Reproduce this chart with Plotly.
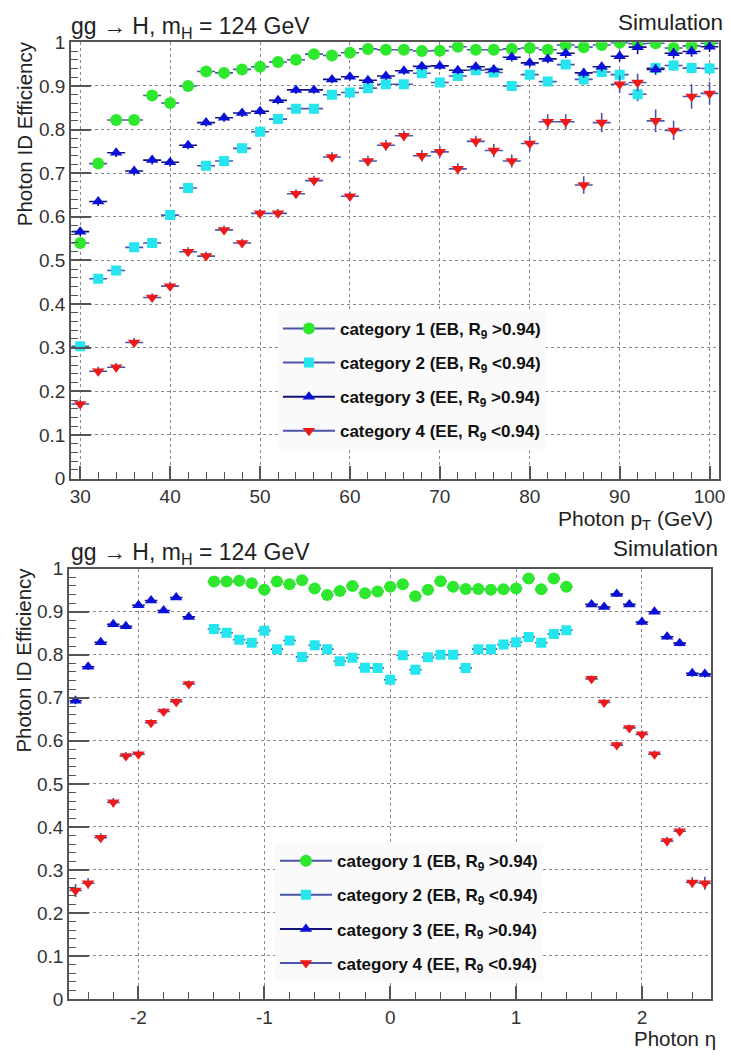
import plotly.graph_objects as go

# ---------------- efficiency vs photon pT ----------------
pt = [30, 32, 34, 36, 38, 40, 42, 44, 46, 48, 50, 52, 54, 56, 58, 60, 62, 64,
      66, 68, 70, 72, 74, 76, 78, 80, 82, 84, 86, 88, 90, 92, 94, 96, 98, 100]

pt_cat1 = [0.540, 0.722, 0.822, 0.822, 0.878, 0.861, 0.900, 0.933, 0.930, 0.938,
           0.944, 0.955, 0.960, 0.973, 0.970, 0.976, 0.985, 0.983, 0.983, 0.980,
           0.981, 0.990, 0.983, 0.983, 0.985, 0.987, 0.983, 0.994, 0.989, 0.994,
           0.999, 0.997, 0.998, 0.987, 0.992, 0.998]
pt_cat2 = [0.303, 0.458, 0.477, 0.530, 0.540, 0.604, 0.666, 0.717, 0.728, 0.757,
           0.795, 0.824, 0.848, 0.848, 0.880, 0.885, 0.895, 0.904, 0.904, 0.929,
           0.908, 0.923, 0.936, 0.931, 0.900, 0.926, 0.910, 0.949, 0.915, 0.932,
           0.926, 0.881, 0.941, 0.947, 0.941, 0.940]
pt_cat3 = [0.566, 0.635, 0.747, 0.705, 0.730, 0.725, 0.764, 0.816, 0.827, 0.838,
           0.842, 0.867, 0.891, 0.891, 0.915, 0.921, 0.913, 0.923, 0.935, 0.945,
           0.946, 0.936, 0.944, 0.938, 0.966, 0.953, 0.962, 0.975, 0.930, 0.944,
           0.968, 0.989, 0.938, 0.975, 0.979, 0.990]
pt_cat4 = [0.171, 0.246, 0.255, 0.312, 0.415, 0.441, 0.520, 0.510, 0.570, 0.540,
           0.608, 0.608, 0.653, 0.683, 0.737, 0.647, 0.728, 0.764, 0.786, 0.740,
           0.749, 0.710, 0.773, 0.752, 0.728, 0.768, 0.818, 0.818, 0.673, 0.816,
           0.904, 0.908, 0.820, 0.798, 0.876, 0.883]

pt_err1 = [0.006, 0.006, 0.005, 0.005, 0.004, 0.004, 0.004, 0.004, 0.004, 0.004,
           0.004, 0.004, 0.004, 0.004, 0.004, 0.004, 0.004, 0.004, 0.004, 0.004,
           0.004, 0.004, 0.004, 0.004, 0.004, 0.004, 0.004, 0.004, 0.004, 0.004,
           0.004, 0.004, 0.004, 0.005, 0.005, 0.005]
pt_err2 = [0.008, 0.008, 0.008, 0.008, 0.008, 0.008, 0.008, 0.008, 0.008, 0.008,
           0.008, 0.008, 0.008, 0.008, 0.008, 0.008, 0.008, 0.008, 0.008, 0.008,
           0.008, 0.008, 0.008, 0.008, 0.009, 0.009, 0.010, 0.010, 0.011, 0.011,
           0.012, 0.016, 0.012, 0.012, 0.012, 0.012]
pt_err3 = [0.010, 0.010, 0.010, 0.010, 0.010, 0.010, 0.009, 0.009, 0.009, 0.009,
           0.009, 0.009, 0.009, 0.009, 0.009, 0.009, 0.009, 0.009, 0.009, 0.009,
           0.009, 0.009, 0.009, 0.009, 0.010, 0.010, 0.010, 0.011, 0.011, 0.011,
           0.012, 0.016, 0.012, 0.012, 0.012, 0.012]
pt_err4 = [0.010, 0.010, 0.010, 0.010, 0.010, 0.010, 0.010, 0.010, 0.010, 0.010,
           0.010, 0.010, 0.010, 0.011, 0.011, 0.011, 0.012, 0.012, 0.012, 0.013,
           0.013, 0.013, 0.013, 0.015, 0.015, 0.018, 0.017, 0.017, 0.020, 0.022,
           0.020, 0.020, 0.026, 0.022, 0.028, 0.026]

PT_HALF_BIN = 1.0

# ---------------- efficiency vs photon eta ----------------
eta_eb = [-1.4, -1.3, -1.2, -1.1, -1.0, -0.9, -0.8, -0.7, -0.6, -0.5, -0.4, -0.3,
          -0.2, -0.1, 0.0, 0.1, 0.2, 0.3, 0.4, 0.5, 0.6, 0.7, 0.8, 0.9, 1.0, 1.1,
          1.2, 1.3, 1.4]
eta_ee = [-2.5, -2.4, -2.3, -2.2, -2.1, -2.0, -1.9, -1.8, -1.7, -1.6,
          1.6, 1.7, 1.8, 1.9, 2.0, 2.1, 2.2, 2.3, 2.4, 2.5]

eta_cat1 = [0.970, 0.970, 0.972, 0.966, 0.951, 0.970, 0.964, 0.973, 0.954, 0.939,
            0.948, 0.960, 0.943, 0.947, 0.958, 0.964, 0.936, 0.951, 0.971, 0.958,
            0.953, 0.953, 0.951, 0.952, 0.954, 0.977, 0.952, 0.977, 0.958]
eta_cat2 = [0.860, 0.851, 0.835, 0.828, 0.856, 0.813, 0.833, 0.795, 0.822, 0.813,
            0.785, 0.793, 0.770, 0.769, 0.742, 0.799, 0.765, 0.794, 0.800, 0.800,
            0.769, 0.813, 0.813, 0.824, 0.829, 0.841, 0.828, 0.848, 0.857]
eta_cat3 = [0.693, 0.772, 0.829, 0.871, 0.866, 0.915, 0.926, 0.903, 0.933, 0.888,
            0.917, 0.911, 0.941, 0.917, 0.876, 0.900, 0.842, 0.827, 0.757, 0.755]
eta_cat4 = [0.252, 0.269, 0.375, 0.457, 0.565, 0.569, 0.642, 0.668, 0.691, 0.732,
            0.744, 0.689, 0.590, 0.630, 0.615, 0.569, 0.367, 0.390, 0.271, 0.269]

eta_err_eb = [0.005, 0.005, 0.005, 0.005, 0.005, 0.005, 0.005, 0.005, 0.005,
              0.005, 0.005, 0.005, 0.005, 0.005, 0.005, 0.005, 0.005, 0.005,
              0.005, 0.005, 0.005, 0.005, 0.005, 0.005, 0.005, 0.005, 0.005,
              0.005, 0.005]
eta_err3 = [0.008, 0.007, 0.007, 0.007, 0.007, 0.006, 0.006, 0.006, 0.006, 0.006,
            0.006, 0.006, 0.006, 0.006, 0.006, 0.006, 0.007, 0.007, 0.008, 0.008]
eta_err4 = [0.015, 0.012, 0.010, 0.010, 0.009, 0.009, 0.008, 0.008, 0.008, 0.008,
            0.008, 0.008, 0.008, 0.008, 0.009, 0.009, 0.010, 0.010, 0.012, 0.015]

ETA_HALF_BIN = 0.05

eta_tickvals = [-2, -1, 0, 1, 2]
eta_ticktext = ["-2", "-1", "0", "1", "2"]

# ---------------- styling ----------------
FONT = "Liberation Sans, Arial, Helvetica, sans-serif"
TXT = "#222222"
AXC = "#555555"
BAR_LIGHT = "#4a55a8"
BAR_DARK = "#12127a"

series = [
    dict(name="category 1 (EB, R<sub>9</sub> &gt;0.94)", color="#2ee82e",
         symbol="circle", size=12, bar=BAR_LIGHT),
    dict(name="category 2 (EB, R<sub>9</sub> &lt;0.94)", color="#25e6ee",
         symbol="square", size=10, bar=BAR_LIGHT),
    dict(name="category 3 (EE, R<sub>9</sub> &gt;0.94)", color="#0a10d8",
         symbol="triangle-up", size=11, bar=BAR_DARK),
    dict(name="category 4 (EE, R<sub>9</sub> &lt;0.94)", color="#ee1a1a",
         symbol="triangle-down", size=11, bar=BAR_LIGHT),
]

W, H = 731, 1059


def px_x(p):
    return p / W


def px_y(p):
    return 1 - p / H


fig = go.Figure()

top_sets = [(pt, pt_cat1, pt_err1), (pt, pt_cat2, pt_err2),
            (pt, pt_cat3, pt_err3), (pt, pt_cat4, pt_err4)]
bot_sets = [(eta_eb, eta_cat1, eta_err_eb), (eta_eb, eta_cat2, eta_err_eb),
            (eta_ee, eta_cat3, eta_err3), (eta_ee, eta_cat4, eta_err4)]

for (xs, ys, es), s in zip(top_sets, series):
    fig.add_trace(go.Scatter(
        x=xs, y=ys, mode="markers", xaxis="x", yaxis="y", showlegend=False,
        marker=dict(color=s["color"], symbol=s["symbol"], size=s["size"],
                    line=dict(width=0)),
        error_x=dict(type="constant", value=PT_HALF_BIN, color=s["bar"],
                     thickness=1.6, width=0),
        error_y=dict(type="data", array=es, color=s["bar"], thickness=1.6, width=0),
    ))

for (xs, ys, es), s in zip(bot_sets, series):
    fig.add_trace(go.Scatter(
        x=xs, y=ys, mode="markers", xaxis="x2", yaxis="y2", showlegend=False,
        marker=dict(color=s["color"], symbol=s["symbol"], size=s["size"],
                    line=dict(width=0)),
        error_x=dict(type="constant", value=ETA_HALF_BIN, color=s["bar"],
                     thickness=1.6, width=0),
        error_y=dict(type="data", array=es, color=s["bar"], thickness=1.6, width=0),
    ))

# legend entries (one legend per panel)
for leg, xa, ya in (("legend", "x", "y"), ("legend2", "x2", "y2")):
    for i, s in enumerate(series):
        fig.add_trace(go.Scatter(
            x=[None], y=[None], mode="lines+markers", name=s["name"],
            xaxis=xa, yaxis=ya, legend=leg, legendgroup=f"{leg}{i}",
            marker=dict(color=s["color"], symbol=s["symbol"], size=s["size"]),
            line=dict(color=s["bar"], width=2),
        ))

axis_common = dict(
    showline=True, linecolor=AXC, linewidth=2, mirror=True,
    ticks="inside", tickcolor=AXC, tickwidth=1.5,
    showgrid=True, gridcolor="#8a8a8a", griddash="dot", gridwidth=1,
    zeroline=False, ticklabeloverflow="allow",
    tickfont=dict(family=FONT, size=19, color="#333333"),
)

legend_common = dict(
    xanchor="left", yanchor="top", bgcolor="#fafafa", borderwidth=0,
    tracegroupgap=9, itemwidth=52,
    font=dict(family=FONT, size=17, color="#111111", weight="bold"),
)

fig.update_layout(
    width=W, height=H, margin=dict(l=0, r=0, t=0, b=0),
    paper_bgcolor="white", plot_bgcolor="white",
    font=dict(family=FONT, color=TXT),
    xaxis=dict(domain=[px_x(71), px_x(725.5)], range=[29, 101], anchor="y",
               tickmode="linear", tick0=30, dtick=10, ticklen=13,
               minor=dict(dtick=2, tick0=30, ticklen=7, ticks="inside",
                          tickcolor=AXC, tickwidth=1.2, showgrid=False),
               **axis_common),
    yaxis=dict(domain=[px_y(478), px_y(33)], range=[0, 1], anchor="x",
               tickmode="linear", tick0=0, dtick=0.1, ticklen=20,
               minor=dict(dtick=0.02, ticklen=7, ticks="inside",
                          tickcolor=AXC, tickwidth=1.2, showgrid=False),
               **axis_common),
    xaxis2=dict(domain=[px_x(69), px_x(718)], range=[-2.55, 2.55], anchor="y2",
                tickmode="array", tickvals=eta_tickvals, ticktext=eta_ticktext,
                ticklen=13,
                minor=dict(dtick=0.2, tick0=0, ticklen=7, ticks="inside",
                           tickcolor=AXC, tickwidth=1.2, showgrid=False),
                **axis_common),
    yaxis2=dict(domain=[px_y(1009), px_y(570)], range=[0, 1], anchor="x2",
                tickmode="linear", tick0=0, dtick=0.1, ticklen=20,
                minor=dict(dtick=0.02, ticklen=7, ticks="inside",
                           tickcolor=AXC, tickwidth=1.2, showgrid=False),
                **axis_common),
    legend=dict(x=px_x(280), y=px_y(307), **legend_common),
    legend2=dict(x=px_x(277), y=px_y(850), **legend_common),
)

title_txt = "gg \u2192 H, m<sub>H</sub> = 124 GeV"
annots = [
    dict(text=title_txt, x=px_x(69), y=px_y(1), xanchor="left", yanchor="top",
         font=dict(size=23)),
    dict(text="Simulation", x=px_x(732), y=px_y(-2), xanchor="right", yanchor="top",
         font=dict(size=22.5)),
    dict(text="Photon ID Efficiency", x=px_x(24), y=px_y(126), textangle=-90,
         xanchor="center", yanchor="middle", font=dict(size=20.5)),
    dict(text="Photon p<sub>T</sub> (GeV)", x=px_x(722), y=px_y(505),
         xanchor="right", yanchor="top", font=dict(size=21)),
    dict(text=title_txt, x=px_x(69), y=px_y(538), xanchor="left", yanchor="top",
         font=dict(size=23)),
    dict(text="Simulation", x=px_x(727), y=px_y(535), xanchor="right", yanchor="top",
         font=dict(size=22.5)),
    dict(text="Photon ID Efficiency", x=px_x(23), y=px_y(663), textangle=-90,
         xanchor="center", yanchor="middle", font=dict(size=20.5)),
    dict(text="Photon \u03b7", x=px_x(725), y=px_y(1036),
         xanchor="right", yanchor="top", font=dict(size=20.5)),
]
for a in annots:
    a.update(xref="paper", yref="paper", showarrow=False)
    a["font"] = dict(family=FONT, color=TXT, **a["font"])
    fig.add_annotation(**a)

fig.write_html("out.html")
